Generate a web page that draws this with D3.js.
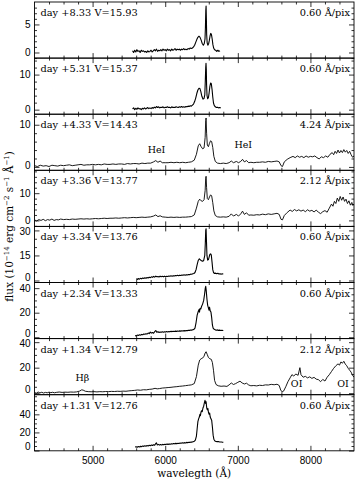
<!DOCTYPE html>
<html>
<head>
<meta charset="utf-8">
<script src="https://cdn.jsdelivr.net/npm/d3@7"></script>
<style>
  body { margin: 0; background: #fff; }
  text { fill: #000; }
</style>
</head>
<body>
<svg id="chart"></svg>
<script>
// labels for each panel, top to bottom
var dayLabels = ["day +8.33 V=15.93", "day +5.31 V=15.37", "day +4.33 V=14.43", "day +3.36 V=13.77",
                 "day +3.34 V=13.76", "day +2.34 V=13.33", "day +1.34 V=12.79", "day +1.31 V=12.76"];
var resLabels = ["0.60 Å/pix", "0.60 Å/pix", "4.24 Å/pix", "2.12 Å/pix",
                 "0.60 Å/pix", "0.60 Å/pix", "2.12 Å/pix", "0.60 Å/pix"];
var yTicks = [[0, 5], [0, 10], [0, 10], [0, 10], [0, 15, 30], [0, 20, 40], [0, 20, 40], [0, 20, 40]];
var xTicks = [5000, 6000, 7000, 8000];

// spectra [wavelength, flux]
var spec833 = [[5550,0.3],[5565,0.0],[5580,0.4],[5595,0.1],[5610,0.5],[5625,0.2],[5640,0.3],[5655,0.0],[5670,0.4],[5685,0.2],
  [5700,0.3],[5715,0.1],[5730,0.2],[5745,0.0],[5760,0.3],[5775,0.1],[5790,0.2],[5805,0.4],[5820,0.1],[5835,0.3],[5850,0.5],
  [5865,0.3],[5880,0.6],[5895,0.2],[5910,0.4],[5925,0.3],[5940,0.5],[5955,0.3],[5970,0.6],[5985,0.4],[6000,0.5],[6015,0.3],
  [6030,0.6],[6045,0.4],[6060,0.5],[6075,0.3],[6090,0.6],[6105,0.4],[6120,0.5],[6135,0.7],[6150,0.4],[6165,0.6],[6180,0.5],
  [6195,0.6],[6210,0.4],[6225,0.6],[6240,0.5],[6255,0.7],[6270,0.5],[6285,0.6],[6300,0.5],[6315,0.7],[6330,0.6],[6345,0.8],
  [6360,0.7],[6375,0.8],[6390,1.0],[6405,1.3],[6420,1.8],[6435,2.3],[6450,2.7],[6465,2.9],[6480,2.7],[6495,2.2],[6510,1.6],
  [6525,1.3],[6538,1.6],[6548,2.4],[6554,4.5],[6559,7.5],[6563,8.3],[6567,6.0],[6571,3.2],[6578,1.7],[6587,1.3],[6597,1.5],
  [6607,2.1],[6617,2.9],[6627,3.4],[6637,3.2],[6647,2.4],[6657,1.4],[6667,0.8],[6680,0.5],[6695,0.4],[6710,0.2],[6725,0.4],
  [6740,0.2],[6755,0.3]];

var spec531 = [[5550,0.2],[5565,0.5],[5580,0.0],[5595,0.4],[5610,0.1],[5625,0.5],[5640,0.2],[5655,0.3],[5670,0.0],[5685,0.4],
  [5700,0.2],[5715,0.5],[5730,0.2],[5745,0.4],[5760,0.6],[5775,0.3],[5790,0.5],[5805,0.3],[5820,0.6],[5835,0.4],[5850,0.7],
  [5865,0.5],[5880,0.9],[5895,0.6],[5910,0.8],[5925,0.5],[5940,0.7],[5955,0.6],[5970,0.8],[5985,0.5],[6000,0.7],[6015,0.6],
  [6030,0.8],[6045,0.6],[6060,0.7],[6075,0.5],[6090,0.8],[6105,0.6],[6120,0.7],[6135,0.6],[6150,0.8],[6165,0.7],[6180,0.6],
  [6195,0.8],[6210,0.7],[6225,0.9],[6240,0.7],[6255,0.8],[6270,0.7],[6285,0.9],[6300,0.8],[6315,1.0],[6330,0.9],[6345,1.1],
  [6360,1.0],[6375,1.3],[6390,1.6],[6405,2.3],[6420,3.3],[6435,4.6],[6450,5.6],[6465,6.1],[6478,6.0],[6490,5.2],[6505,3.8],
  [6520,3.0],[6535,3.2],[6545,4.2],[6552,8.0],[6558,12.0],[6562,13.2],[6566,11.5],[6570,7.0],[6576,4.0],[6585,3.1],[6595,3.4],
  [6605,4.8],[6615,6.6],[6625,7.6],[6635,7.4],[6645,5.8],[6655,3.6],[6665,1.9],[6675,1.2],[6690,0.8],[6705,0.6],[6720,0.7],
  [6735,0.5],[6750,0.6],[6765,0.5]];

var spec433 = [[4200,0.3],[4240,0.1],[4280,0.4],[4320,0.2],[4360,0.3],[4400,0.1],[4440,0.4],[4480,0.3],[4520,0.2],[4560,0.4],
  [4600,0.3],[4640,0.4],[4680,0.5],[4720,0.3],[4760,0.4],[4800,0.5],[4840,0.6],[4880,0.4],[4920,0.5],[4960,0.5],[5000,0.6],
  [5040,0.5],[5080,0.6],[5120,0.5],[5160,0.7],[5200,0.6],[5240,0.6],[5280,0.7],[5320,0.6],[5360,0.7],[5400,0.7],[5440,0.6],
  [5480,0.8],[5520,0.7],[5560,0.8],[5600,0.8],[5640,0.7],[5680,0.9],[5720,0.8],[5760,0.9],[5800,0.9],[5840,1.2],[5870,1.5],
  [5900,1.1],[5930,1.4],[5960,1.0],[6000,1.0],[6040,1.0],[6080,1.1],[6120,1.0],[6160,1.1],[6200,1.0],[6240,1.1],[6280,1.0],
  [6320,1.1],[6360,1.2],[6400,1.6],[6430,3.0],[6455,5.0],[6475,5.5],[6495,4.8],[6515,4.3],[6535,4.5],[6550,7.0],[6558,11.0],
  [6563,11.6],[6570,8.0],[6580,5.2],[6595,4.8],[6610,5.6],[6625,6.2],[6640,6.0],[6655,4.6],[6670,2.5],[6690,1.3],[6720,0.9],
  [6760,0.8],[6800,0.9],[6840,0.8],[6880,1.0],[6910,1.4],[6940,1.0],[6980,1.3],[7010,1.0],[7040,1.3],[7065,1.8],[7090,1.2],
  [7120,1.5],[7150,1.0],[7180,1.1],[7220,1.0],[7260,1.1],[7300,1.1],[7340,1.2],[7380,1.1],[7420,1.3],[7460,1.2],[7500,1.3],
  [7540,1.4],[7570,1.2],[7595,0.3],[7615,0.1],[7640,1.2],[7680,1.8],[7720,2.2],[7760,2.5],[7790,2.2],[7820,2.6],[7850,2.3],
  [7880,2.5],[7910,2.2],[7940,2.6],[7970,2.3],[8000,2.5],[8030,2.4],[8060,2.6],[8090,2.2],[8120,1.9],[8150,2.4],[8180,2.2],
  [8210,2.6],[8240,2.3],[8270,3.0],[8300,3.4],[8320,2.9],[8340,3.7],[8360,3.2],[8380,4.0],[8400,3.3],[8420,3.9],[8440,3.4],
  [8460,4.1],[8480,3.5],[8500,3.9],[8520,3.2],[8540,3.7],[8560,2.9],[8580,2.3],[8600,2.6]];

var spec336 = [[4200,0.2],[4230,-0.2],[4260,0.3],[4290,0.0],[4320,0.4],[4350,-0.1],[4380,0.3],[4410,0.1],[4440,0.5],[4470,0.0],
  [4500,0.3],[4530,0.2],[4560,0.5],[4600,0.3],[4640,0.4],[4680,0.3],[4720,0.5],[4760,0.4],[4800,0.5],[4840,0.6],[4880,0.5],
  [4920,0.6],[4960,0.5],[5000,0.6],[5040,0.7],[5080,0.6],[5120,0.7],[5160,0.8],[5200,0.7],[5240,0.8],[5280,0.8],[5320,0.9],
  [5360,0.8],[5400,0.9],[5440,1.0],[5480,0.9],[5520,1.0],[5560,1.1],[5600,1.0],[5640,1.1],[5680,1.2],[5720,1.1],[5760,1.2],
  [5800,1.3],[5840,1.6],[5870,2.0],[5900,1.4],[5930,1.7],[5960,1.3],[6000,1.2],[6040,1.1],[6080,1.2],[6120,1.1],[6160,1.2],
  [6200,1.1],[6240,1.2],[6280,1.2],[6320,1.3],[6360,1.4],[6400,2.0],[6430,4.5],[6455,7.0],[6475,7.8],[6495,7.2],[6515,7.0],
  [6535,7.6],[6550,11.0],[6558,15.5],[6563,16.2],[6570,12.0],[6580,8.0],[6595,7.6],[6610,8.6],[6625,9.4],[6640,9.0],[6655,6.5],
  [6670,3.5],[6690,1.8],[6720,1.3],[6760,1.2],[6800,1.3],[6840,1.2],[6880,1.5],[6910,2.4],[6940,1.6],[6980,2.2],[7010,1.6],
  [7040,2.4],[7065,3.4],[7090,2.2],[7120,2.8],[7150,1.9],[7180,2.0],[7220,1.9],[7260,2.1],[7300,2.0],[7340,2.3],[7380,2.1],
  [7420,2.4],[7460,2.2],[7500,2.4],[7540,2.6],[7570,2.2],[7595,0.4],[7615,0.2],[7640,1.8],[7680,2.9],[7720,3.8],[7750,3.3],
  [7780,4.0],[7810,3.5],[7840,3.9],[7870,3.4],[7900,3.8],[7930,3.2],[7960,3.9],[7990,3.4],[8020,3.7],[8050,3.1],[8080,3.8],
  [8110,3.0],[8140,2.5],[8170,3.2],[8200,3.6],[8230,3.0],[8260,4.5],[8290,6.0],[8310,5.2],[8330,7.0],[8350,6.2],[8370,8.2],
  [8390,7.0],[8410,8.8],[8430,7.4],[8450,8.6],[8470,7.0],[8490,7.8],[8510,6.2],[8530,7.2],[8550,5.6],[8570,6.6],[8585,5.5],
  [8600,6.0]];

var spec334 = [[5600,1.0],[5615,0.6],[5630,1.2],[5645,0.8],[5660,1.3],[5675,1.0],[5690,1.5],[5705,1.2],[5720,1.6],[5735,1.3],
  [5750,1.8],[5765,1.5],[5780,2.0],[5795,1.7],[5810,2.2],[5825,1.9],[5840,2.5],[5855,2.0],[5870,2.6],[5885,2.2],[5900,2.4],
  [5915,2.1],[5930,2.6],[5945,2.3],[5960,2.5],[5975,2.2],[5990,2.6],[6005,2.3],[6020,2.5],[6035,2.4],[6050,2.7],[6065,2.5],
  [6080,2.8],[6095,2.6],[6110,2.9],[6125,2.7],[6140,3.0],[6155,2.8],[6170,3.1],[6185,2.9],[6200,3.2],[6215,3.0],[6230,3.3],
  [6245,3.1],[6260,3.4],[6275,3.2],[6290,3.5],[6305,3.3],[6320,3.6],[6335,3.5],[6350,3.8],[6365,3.7],[6380,4.0],[6395,4.2],
  [6410,4.8],[6425,6.5],[6440,9.5],[6455,12.0],[6470,13.0],[6485,12.4],[6500,11.8],[6515,11.5],[6530,12.0],[6545,15.0],
  [6552,22.0],[6558,30.0],[6563,31.0],[6568,24.0],[6575,15.0],[6585,12.2],[6595,12.5],[6605,14.0],[6615,15.6],[6625,16.0],
  [6635,15.2],[6645,11.0],[6655,6.5],[6665,4.8],[6680,4.2],[6695,4.4],[6710,4.0],[6725,4.3],[6740,3.9],[6755,4.1],[6770,3.8],
  [6785,4.0],[6800,3.9]];

var spec234 = [[5585,1.4],[5600,1.0],[5615,1.8],[5630,1.5],[5645,2.0],[5660,1.7],[5675,2.3],[5690,2.0],[5705,2.6],[5720,2.4],
  [5735,2.9],[5750,2.6],[5765,3.4],[5780,3.0],[5795,4.2],[5810,3.4],[5825,3.8],[5840,3.3],[5855,4.5],[5870,5.5],[5885,4.0],
  [5900,4.6],[5915,3.9],[5930,4.3],[5945,4.0],[5960,4.4],[5975,4.1],[5990,4.5],[6005,4.2],[6020,4.6],[6035,4.3],[6050,4.7],
  [6065,4.4],[6080,4.8],[6095,4.6],[6110,4.9],[6125,4.7],[6140,5.0],[6155,4.8],[6170,5.1],[6185,4.9],[6200,5.2],[6215,5.0],
  [6230,5.3],[6245,5.1],[6260,5.4],[6275,5.2],[6290,5.5],[6305,5.4],[6320,5.7],[6335,5.6],[6350,5.9],[6365,5.8],[6380,6.1],
  [6395,6.4],[6410,7.5],[6425,12.0],[6440,18.0],[6455,21.0],[6465,22.5],[6472,20.5],[6480,23.5],[6490,23.0],[6500,25.0],
  [6515,27.0],[6530,30.0],[6542,35.0],[6552,40.0],[6558,41.5],[6565,38.0],[6575,31.0],[6585,26.0],[6595,24.0],[6603,22.0],
  [6610,24.5],[6620,21.5],[6630,20.5],[6640,16.0],[6650,10.0],[6660,7.5],[6675,6.5],[6690,6.0],[6705,5.7],[6720,6.0],
  [6735,5.6],[6750,5.8],[6765,5.5],[6780,5.7],[6800,5.5]];

var spec134 = [[4200,0.5],[4225,0.0],[4250,0.9],[4275,0.2],[4300,0.7],[4325,0.1],[4350,0.6],[4375,0.3],[4400,0.8],[4425,0.4],
  [4450,0.7],[4475,0.3],[4500,0.6],[4540,0.9],[4580,0.6],[4620,0.8],[4660,0.7],[4700,0.9],[4740,0.8],[4780,1.0],[4820,1.6],
  [4850,2.6],[4870,2.4],[4900,1.5],[4940,1.2],[4980,1.1],[5020,1.2],[5060,1.0],[5100,1.2],[5140,1.1],[5180,1.3],[5220,1.2],
  [5260,1.4],[5300,1.3],[5340,1.5],[5380,1.4],[5420,1.6],[5460,1.5],[5500,1.8],[5540,2.0],[5580,2.2],[5620,2.5],[5660,2.3],
  [5700,2.7],[5740,2.6],[5780,3.0],[5820,3.2],[5860,3.8],[5890,3.4],[5920,3.6],[5960,4.0],[6000,4.2],[6040,4.4],[6080,4.6],
  [6120,4.9],[6160,5.1],[6200,5.4],[6240,5.6],[6280,5.9],[6320,6.2],[6360,6.5],[6400,7.5],[6430,13.0],[6455,22.0],[6475,26.0],
  [6495,27.0],[6515,27.5],[6535,29.0],[6550,31.5],[6563,32.5],[6578,30.5],[6595,28.0],[6615,27.0],[6635,26.5],[6650,24.0],
  [6665,18.0],[6680,10.0],[6700,6.8],[6730,5.8],[6770,5.4],[6810,5.6],[6850,5.3],[6880,6.5],[6910,8.0],[6940,6.8],[6970,7.5],
  [7000,8.5],[7030,9.4],[7060,8.0],[7090,7.2],[7120,7.8],[7150,6.4],[7180,5.8],[7220,6.0],[7260,5.7],[7300,6.2],[7340,6.0],
  [7380,6.5],[7420,6.4],[7460,6.9],[7500,6.6],[7540,7.0],[7570,6.0],[7590,2.5],[7610,1.0],[7630,1.6],[7660,5.0],[7690,9.0],
  [7720,12.0],[7745,14.5],[7770,13.5],[7800,15.0],[7830,14.0],[7855,20.0],[7870,14.5],[7900,12.5],[7930,13.2],[7960,12.0],
  [7990,12.8],[8020,11.6],[8050,12.4],[8080,11.0],[8110,10.6],[8140,9.0],[8170,10.8],[8200,9.5],[8230,12.5],[8260,14.5],
  [8290,17.0],[8320,19.5],[8350,21.5],[8380,23.0],[8400,22.0],[8420,24.5],[8440,23.5],[8460,25.0],[8480,22.8],[8500,21.5],
  [8520,19.5],[8540,18.0],[8560,16.5],[8580,14.0],[8600,12.5]];

var spec131 = [[5585,3.8],[5600,4.2],[5615,3.6],[5630,4.4],[5645,4.0],[5660,4.6],[5675,4.3],[5690,5.0],[5705,4.6],[5720,5.2],
  [5735,4.8],[5750,5.5],[5765,5.1],[5780,5.8],[5795,5.3],[5810,6.0],[5825,5.5],[5840,6.4],[5855,5.8],[5870,7.8],[5880,8.5],
  [5890,6.2],[5905,6.8],[5920,6.0],[5935,6.6],[5950,6.2],[5965,6.8],[5980,6.4],[5995,7.0],[6010,6.6],[6025,7.1],[6040,6.8],
  [6055,7.3],[6070,7.0],[6085,7.5],[6100,7.2],[6115,7.7],[6130,7.4],[6145,7.9],[6160,7.6],[6175,8.1],[6190,7.8],[6205,8.3],
  [6220,8.0],[6235,8.5],[6250,8.2],[6265,8.7],[6280,8.4],[6295,9.0],[6310,8.7],[6325,9.2],[6340,9.0],[6355,9.5],[6370,9.3],
  [6385,9.8],[6400,10.2],[6415,11.5],[6430,16.0],[6440,24.0],[6450,32.0],[6460,35.0],[6470,37.0],[6478,40.0],[6485,38.5],
  [6492,42.0],[6500,44.0],[6510,43.0],[6520,47.0],[6530,49.0],[6540,53.0],[6548,55.5],[6556,52.0],[6563,54.0],[6572,47.0],
  [6580,45.0],[6588,46.5],[6596,42.0],[6605,40.0],[6612,41.5],[6620,37.0],[6630,35.0],[6640,33.5],[6650,26.0],[6660,17.0],
  [6670,12.5],[6685,10.5],[6700,10.0],[6715,9.8],[6730,10.0],[6745,9.6],[6760,9.4],[6775,9.5],[6790,9.2],[6800,9.0]];

var spectra = [spec833, spec531, spec433, spec336, spec334, spec234, spec134, spec131];
// y extent of each panel
var yDomains = [[-1, 9], [-1.3, 14.7], [-0.8, 12.5], [-2.2, 18.4], [-1.2, 32.4], [-1.1, 44.6], [-1.2, 42.8], [-0.3, 61.7]];
var yMinorStep = [1, 2, 2, 2, 5, 5, 5, 5];

// line annotations: [panel, wavelength, flux, text]
var lineLabels = [[2, 5880, 3.3, "HeI"], [2, 7075, 4.5, "HeI"], [6, 4860, 9.5, "Hβ"], [6, 7810, 4.5, "OI"], [6, 8450, 4.5, "OI"]];

var W = 360, H = 481;
var left = 34.5, right = 354, top0 = 2, panelH = 56.1;
var serif = "'DejaVu Serif', serif", sans = "'Liberation Sans', Arial, sans-serif";

var svg = d3.select("#chart").attr("width", W).attr("height", H);

var x = d3.scaleLinear().domain([4200, 8600]).range([left, right]);
var xMinor = d3.range(4400, 8600, 200).filter(function(v) { return v % 1000 !== 0; });

var line = d3.line().x(function(d) { return x(d[0]); });

spectra.forEach(function(spec, i) {
  var top = top0 + i * panelH, bottom = top + panelH;
  var last = i === spectra.length - 1;
  var y = d3.scaleLinear().domain(yDomains[i]).range([bottom, top]);
  var g = svg.append("g");

  g.append("clipPath").attr("id", "clip" + i)
    .append("rect").attr("x", left).attr("y", top).attr("width", right - left).attr("height", panelH);

  g.append("path")
    .datum(spec)
    .attr("clip-path", "url(#clip" + i + ")")
    .attr("fill", "none")
    .attr("stroke", "#000")
    .attr("stroke-width", resLabels[i] === "0.60 Å/pix" ? 1.1 : 0.9)
    .attr("stroke-linejoin", "round")
    .attr("d", line.y(function(d) { return y(d[1]); }));

  var yMinor = d3.range(Math.ceil(yDomains[i][0] / yMinorStep[i]) * yMinorStep[i], yDomains[i][1], yMinorStep[i])
    .filter(function(v) { return yTicks[i].indexOf(v) < 0; });

  // ticks on all four sides, pointing inward
  function axis(gen, tx, ty, values, size, labels, pad) {
    var a = g.append("g").attr("transform", "translate(" + tx + "," + ty + ")")
      .call(gen.tickValues(values).tickSize(-size).tickPadding(pad || 0)
        .tickFormat(labels ? d3.format("d") : ""));
    a.select(".domain").remove();
    a.selectAll("line").attr("stroke", "#000").attr("stroke-width", 0.8);
    a.selectAll("text").attr("font-family", sans).attr("font-size", 10);
    return a;
  }
  var yl = axis(d3.axisLeft(y), left, 0, yTicks[i], 5, true, 4);
  // labels sitting on a panel edge crowd the neighbour's, keep them 5px inside
  yl.selectAll("text").attr("transform", function(v) {
    var p = y(v);
    if (p - top < 5) return "translate(0," + (top + 5 - p) + ")";
    if (bottom - p < 5) return "translate(0," + (bottom - 5 - p) + ")";
    return null;
  });
  axis(d3.axisLeft(y), left, 0, yMinor, 2.5, false);
  axis(d3.axisRight(y), right, 0, yTicks[i], 5, false);
  axis(d3.axisRight(y), right, 0, yMinor, 2.5, false);
  axis(d3.axisTop(x), 0, top, xTicks, 5, false);
  axis(d3.axisTop(x), 0, top, xMinor, 2.5, false);
  axis(d3.axisBottom(x), 0, bottom, xTicks, 5, last, 6);
  axis(d3.axisBottom(x), 0, bottom, xMinor, 2.5, false);

  g.append("rect")
    .attr("x", left).attr("y", top).attr("width", right - left).attr("height", panelH)
    .attr("fill", "none").attr("stroke", "#000").attr("stroke-width", 0.9);

  g.append("text")
    .attr("x", left + 6).attr("y", top + 14)
    .attr("font-family", serif).attr("font-size", 9.8)
    .text(dayLabels[i]);
  g.append("text")
    .attr("x", right - 4).attr("y", top + 14)
    .attr("text-anchor", "end")
    .attr("font-family", serif).attr("font-size", 9.8)
    .text(resLabels[i]);

  lineLabels.filter(function(l) { return l[0] === i; }).forEach(function(l) {
    g.append("text")
      .attr("x", x(l[1])).attr("y", y(l[2]))
      .attr("text-anchor", "middle")
      .attr("font-family", serif).attr("font-size", 9.5)
      .text(l[3]);
  });
});

// axis titles
svg.append("text")
  .attr("x", (left + right) / 2).attr("y", 477)
  .attr("text-anchor", "middle")
  .attr("font-family", serif).attr("font-size", 10.5)
  .text("wavelegth (Å)");

var yt = svg.append("text")
  .attr("transform", "translate(13," + (top0 + 4 * panelH) + ") rotate(-90)")
  .attr("text-anchor", "middle")
  .attr("font-family", serif).attr("font-size", 10.5);
yt.append("tspan").text("flux (10");
yt.append("tspan").attr("dy", -4).attr("font-size", 7).text("−14");
yt.append("tspan").attr("dy", 4).text(" erg cm");
yt.append("tspan").attr("dy", -4).attr("font-size", 7).text("−2");
yt.append("tspan").attr("dy", 4).text(" s");
yt.append("tspan").attr("dy", -4).attr("font-size", 7).text("−1");
yt.append("tspan").attr("dy", 4).text(" Å");
yt.append("tspan").attr("dy", -4).attr("font-size", 7).text("−1");
yt.append("tspan").attr("dy", 4).text(")");
</script>
</body>
</html>
